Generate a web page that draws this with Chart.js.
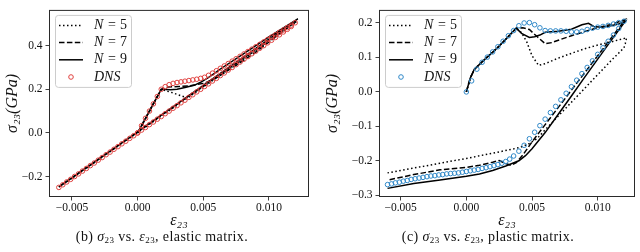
<!DOCTYPE html>
<html lang="en">
<head>
<meta charset="UTF-8">
<title>sigma23 vs epsilon23</title>
<script src="https://cdn.jsdelivr.net/npm/chart.js"></script>
<style>
    body { margin: 0; background: #fff; }
    .figure { position: relative; width: 640px; height: 252px; }
    .panel { position: absolute; top: 0; }
    .caption {
        position: absolute;
        top: 229px;
        font-family: 'Liberation Serif', serif;
        font-size: 14px;
        letter-spacing: 0.4px;
        color: #111;
        white-space: nowrap;
        transform: translateX(-50%);
    }
    .caption sub { font-size: 9px; vertical-align: -2px; line-height: 0; }
</style>
</head>
<body>
<div class="figure">
    <div class="panel" style="left:0"><canvas id="elastic" width="320" height="230"></canvas></div>
    <div class="panel" style="left:320px"><canvas id="plastic" width="320" height="230"></canvas></div>
    <div class="caption" style="left:162px">(b) <i>σ</i><sub>23</sub> vs. <i>ε</i><sub>23</sub>, elastic matrix.</div>
    <div class="caption" style="left:488px">(c) <i>σ</i><sub>23</sub> vs. <i>ε</i><sub>23</sub>, plastic matrix.</div>
</div>

<script>
// ---- tick values / labels ----
const strainTicks = [-0.005, 0, 0.005, 0.01];
const strainTickLabels = ['−0.005', '0.000', '0.005', '0.010'];
const elasticStressTicks = [-0.2, 0, 0.2, 0.4];
const elasticStressTickLabels = ['−0.2', '0.0', '0.2', '0.4'];
const plasticStressTicks = [-0.3, -0.2, -0.1, 0, 0.1, 0.2];
const plasticStressTickLabels = ['−0.3', '−0.2', '−0.1', '0.0', '0.1', '0.2'];
const legendLabels = ['N = 5', 'N = 7', 'N = 9', 'DNS'];

// ---- (b) elastic matrix ----
const elasticDnsStrain = [0, 0.0003, 0.0006, 0.0009, 0.0012, 0.0015, 0.0018, 0.0021, 0.0024, 0.0027, 0.003, 0.0033, 0.0036, 0.0039, 0.0042, 0.0045, 0.0048, 0.0051, 0.0054, 0.0057, 0.006, 0.0063, 0.0066, 0.0069, 0.0072, 0.0075, 0.0078, 0.0081, 0.0084, 0.0087, 0.009, 0.0093, 0.0096, 0.0099, 0.0102, 0.0105, 0.0108, 0.0111, 0.0114, 0.0117, 0.012,
    0.0117, 0.0114, 0.0111, 0.0108, 0.0105, 0.0102, 0.0099, 0.0096, 0.0093, 0.009, 0.0087, 0.0084, 0.0081, 0.0078, 0.0075, 0.0072, 0.0069, 0.0066, 0.0063, 0.006, 0.0057, 0.0054, 0.0051, 0.0048, 0.0045, 0.0042, 0.0039, 0.0036, 0.0033, 0.003, 0.0027, 0.0024, 0.0021, 0.0018, 0.0015, 0.0012, 0.0009, 0.0006, 0.0003, 0,
    -0.0003, -0.0006, -0.0009, -0.0012, -0.0015, -0.0018, -0.0021, -0.0024, -0.0027, -0.003, -0.0033, -0.0036, -0.0039, -0.0042, -0.0045, -0.0048, -0.0051, -0.0054, -0.0057, -0.006];
const elasticDnsStress = [0, 0.033, 0.067, 0.1, 0.133, 0.167, 0.2, 0.212, 0.221, 0.227, 0.231, 0.234, 0.237, 0.24, 0.243, 0.246, 0.25, 0.255, 0.264, 0.274, 0.285, 0.296, 0.307, 0.318, 0.329, 0.34, 0.351, 0.362, 0.373, 0.384, 0.395, 0.406, 0.417, 0.428, 0.439, 0.45, 0.461, 0.472, 0.483, 0.494, 0.505,
    0.488, 0.475, 0.463, 0.45, 0.438, 0.425, 0.413, 0.4, 0.388, 0.375, 0.363, 0.35, 0.338, 0.325, 0.313, 0.3, 0.288, 0.275, 0.263, 0.25, 0.238, 0.225, 0.213, 0.2, 0.188, 0.175, 0.163, 0.15, 0.138, 0.125, 0.113, 0.1, 0.088, 0.075, 0.063, 0.05, 0.038, 0.025, 0.013, 0,
    -0.013, -0.025, -0.038, -0.05, -0.063, -0.075, -0.088, -0.1, -0.113, -0.125, -0.138, -0.15, -0.163, -0.175, -0.188, -0.2, -0.213, -0.225, -0.238, -0.25];
const elasticN9Strain = [0, 0.0018, 0.0025, 0.003, 0.0036, 0.0043, 0.0048, 0.0055, 0.0063, 0.008, 0.01, 0.0122, 0.006, 0, -0.006];
const elasticN9Stress = [0, 0.2, 0.198, 0.2, 0.208, 0.218, 0.232, 0.258, 0.293, 0.36, 0.44, 0.523, 0.26, 0.005, -0.248];
const elasticN7Strain = [0, 0.0018, 0.0023, 0.0032, 0.004, 0.0051, 0.0061, 0.0075, 0.009, 0.0105, 0.0121, 0.006, 0, -0.006];
const elasticN7Stress = [0, 0.2, 0.21, 0.213, 0.216, 0.228, 0.256, 0.31, 0.37, 0.44, 0.516, 0.258, 0.004, -0.248];
const elasticN5Strain = [0, 0.0018, 0.0027, 0.0037, 0.005, 0.007, 0.009, 0.0121, 0.006, 0, -0.006];
const elasticN5Stress = [0, 0.2, 0.183, 0.162, 0.212, 0.295, 0.378, 0.51, 0.252, 0.002, -0.25];

// ---- (c) plastic matrix ----
const plasticDnsStrain = [0, 0.0004, 0.0008, 0.0012, 0.0016, 0.002, 0.0024, 0.0028, 0.0032, 0.0036, 0.004, 0.0044, 0.0048, 0.0052, 0.0056, 0.006, 0.0064, 0.0068, 0.0072, 0.0076, 0.008, 0.0084, 0.0088, 0.0092, 0.0096, 0.01, 0.0104, 0.0108, 0.0112, 0.0116, 0.012,
    0.0116, 0.0112, 0.0108, 0.0104, 0.01, 0.0096, 0.0092, 0.0088, 0.0084, 0.008, 0.0076, 0.0072, 0.0068, 0.0064, 0.006, 0.0056, 0.0052, 0.0048, 0.0044, 0.004, 0.0036,
    0.0033, 0.003, 0.0027, 0.0024, 0.0021, 0.0018, 0.0015, 0.0012, 0.0009, 0.0006, 0.0003, 0, -0.0003, -0.0006, -0.0009, -0.0012, -0.0015, -0.0018, -0.0021, -0.0024, -0.0027, -0.003, -0.0033, -0.0036, -0.0039, -0.0042, -0.0045, -0.0048, -0.0051, -0.0054, -0.0057, -0.006];
const plasticDnsStress = [0, 0.032, 0.066, 0.086, 0.101, 0.116, 0.131, 0.147, 0.163, 0.178, 0.192, 0.2, 0.201, 0.195, 0.186, 0.178, 0.177, 0.177, 0.177, 0.176, 0.174, 0.174, 0.176, 0.181, 0.185, 0.188, 0.19, 0.193, 0.197, 0.201, 0.205,
    0.184, 0.165, 0.147, 0.128, 0.109, 0.09, 0.071, 0.053, 0.034, 0.015, -0.004, -0.023, -0.042, -0.06, -0.079, -0.098, -0.117, -0.136, -0.155, -0.172, -0.186,
    -0.195, -0.202, -0.207, -0.211, -0.214, -0.217, -0.22, -0.222, -0.225, -0.227, -0.229, -0.231, -0.233, -0.235, -0.236, -0.237, -0.238, -0.24, -0.241, -0.243, -0.244, -0.246, -0.248, -0.25, -0.252, -0.254, -0.257, -0.259, -0.262, -0.264, -0.267, -0.269];
const plasticN9Strain = [0, 0.0003, 0.0006, 0.001, 0.0015, 0.002, 0.0025, 0.003, 0.0035, 0.0038, 0.0042, 0.0048, 0.0052, 0.0056, 0.006, 0.007, 0.008, 0.0088, 0.0093, 0.0097, 0.0103, 0.011, 0.0116, 0.0121,
    0.0118, 0.011, 0.01, 0.009, 0.008, 0.007, 0.006, 0.005, 0.0045, 0.004, 0.003, 0.002, 0.001, 0, -0.002, -0.004, -0.006];
const plasticN9Stress = [0, 0.04, 0.065, 0.08, 0.098, 0.115, 0.133, 0.153, 0.173, 0.185, 0.17, 0.158, 0.16, 0.165, 0.173, 0.176, 0.182, 0.195, 0.199, 0.19, 0.188, 0.192, 0.197, 0.205,
    0.19, 0.148, 0.095, 0.042, -0.012, -0.065, -0.118, -0.165, -0.185, -0.2, -0.215, -0.228, -0.238, -0.245, -0.256, -0.266, -0.28];
const plasticN7Strain = [0, 0.0003, 0.0006, 0.001, 0.0015, 0.002, 0.0025, 0.003, 0.0035, 0.0038, 0.0043, 0.0048, 0.0054, 0.006, 0.0065, 0.007, 0.008, 0.009, 0.01, 0.011, 0.0121,
    0.0118, 0.011, 0.01, 0.009, 0.008, 0.007, 0.006, 0.005, 0.0043, 0.0038, 0.0034, 0.003, 0.0025, 0.002, 0.001, 0, -0.002, -0.004, -0.006];
const plasticN7Stress = [0, 0.04, 0.065, 0.08, 0.098, 0.115, 0.133, 0.153, 0.173, 0.185, 0.186, 0.181, 0.16, 0.14, 0.143, 0.15, 0.163, 0.175, 0.186, 0.196, 0.21,
    0.195, 0.155, 0.105, 0.055, 0.005, -0.045, -0.095, -0.145, -0.183, -0.205, -0.213, -0.208, -0.199, -0.204, -0.213, -0.219, -0.226, -0.24, -0.256];
const plasticN5Strain = [0, 0.0003, 0.0006, 0.001, 0.0015, 0.002, 0.0025, 0.003, 0.0035, 0.0038, 0.0042, 0.0046, 0.005, 0.0055, 0.006, 0.007, 0.008, 0.009, 0.01, 0.011, 0.0122,
    0.0121, 0.012, 0.011, 0.01, 0.009, 0.008, 0.007, 0.006, 0.0054, 0.0047, 0.004, 0.002, 0, -0.002, -0.004, -0.006];
const plasticN5Stress = [0, 0.04, 0.065, 0.08, 0.098, 0.115, 0.133, 0.153, 0.173, 0.185, 0.172, 0.145, 0.105, 0.077, 0.082, 0.098, 0.112, 0.125, 0.136, 0.145, 0.157,
    0.14, 0.128, 0.09, 0.05, 0.01, -0.03, -0.07, -0.11, -0.135, -0.152, -0.162, -0.178, -0.193, -0.207, -0.221, -0.235];

const serif = "'Liberation Serif', 'DejaVu Serif', serif";
const ink = '#111';

function series(xs, ys) {
    return xs.map((x, i) => ({ x: x, y: ys[i] }));
}

function modelSet(label, xs, ys, dash, order) {
    return {
        label: label,
        data: series(xs, ys),
        showLine: true,
        borderColor: '#000',
        borderWidth: 1.5,
        borderDash: dash,
        pointRadius: 0,
        fill: false,
        order: order
    };
}

function dnsSet(xs, ys, color) {
    return {
        label: 'DNS',
        data: series(xs, ys),
        showLine: false,
        pointRadius: 2.3,
        pointBorderWidth: 1,
        borderColor: color,
        pointBorderColor: color,
        pointBackgroundColor: 'rgba(0,0,0,0)',
        order: 0
    };
}

// full box around the axes, like matplotlib spines
const framePlugin = {
    id: 'frame',
    afterDatasetsDraw(chart) {
        const a = chart.chartArea, ctx = chart.ctx;
        ctx.save();
        ctx.strokeStyle = '#2a2a2a';
        ctx.lineWidth = 1;
        ctx.strokeRect(a.left + 0.5, a.top + 0.5, a.right - a.left - 1, a.bottom - a.top - 1);
        ctx.restore();
    }
};

// legend box in the upper-left corner of the axes
const boxLegendPlugin = {
    id: 'boxLegend',
    afterDraw(chart) {
        const a = chart.chartArea, ctx = chart.ctx;
        const x0 = a.left + 6, y0 = a.top + 5;
        ctx.save();
        ctx.fillStyle = 'rgba(255,255,255,0.85)';
        ctx.strokeStyle = '#cccccc';
        ctx.lineWidth = 1;
        ctx.beginPath();
        ctx.roundRect(x0 + 0.5, y0 + 0.5, 76, 72, 3);
        ctx.fill();
        ctx.stroke();

        legendLabels.forEach((label, row) => {
            const ds = chart.data.datasets.find(d => d.label === label);
            const y = y0 + 10.5 + row * 17.2;
            if (ds.showLine) {
                ctx.strokeStyle = ds.borderColor;
                ctx.lineWidth = ds.borderWidth;
                ctx.setLineDash(ds.borderDash);
                ctx.beginPath();
                ctx.moveTo(x0 + 4, y);
                ctx.lineTo(x0 + 28, y);
                ctx.stroke();
                ctx.setLineDash([]);
            } else {
                ctx.strokeStyle = ds.pointBorderColor;
                ctx.lineWidth = 1;
                ctx.beginPath();
                ctx.arc(x0 + 16, y, 2.3, 0, Math.PI * 2);
                ctx.stroke();
            }
            ctx.fillStyle = ink;
            ctx.textBaseline = 'middle';
            ctx.textAlign = 'left';
            const tx = x0 + 39;
            const parts = label.split(' = ');
            ctx.font = 'italic 14px ' + serif;
            ctx.fillText(parts[0], tx, y);
            if (parts.length > 1) {
                ctx.font = '14px ' + serif;
                ctx.fillText('=', tx + 14, y);
                ctx.fillText(parts[1], tx + 26, y);
            }
        });
        ctx.restore();
    }
};

function makeChart(id, datasets, opts) {
    const tickFont = { family: serif, size: 11.5 };
    const titleFont = { family: serif, size: 16, style: 'italic' };
    return new Chart(document.getElementById(id), {
        type: 'scatter',
        data: { datasets: datasets },
        options: {
            responsive: false,
            animation: false,
            events: [],
            layout: { padding: { top: 2, right: opts.padRight, bottom: 0, left: 0 } },
            plugins: { legend: { display: false }, tooltip: { enabled: false } },
            scales: {
                x: {
                    type: 'linear',
                    min: opts.xMin,
                    max: opts.xMax,
                    afterBuildTicks: s => { s.ticks = strainTicks.map(v => ({ value: v })); },
                    afterFit: s => { s.height = 33; },
                    ticks: {
                        callback: (v, i) => strainTickLabels[i],
                        font: tickFont, color: ink, padding: 1,
                        maxRotation: 0, autoSkip: false
                    },
                    grid: { drawOnChartArea: false, drawTicks: true, tickLength: 3.5, color: ink, lineWidth: 0.8 },
                    border: { display: false },
                    title: { display: true, text: 'ε₂₃', font: titleFont, color: ink, padding: { top: 0, bottom: 0 } }
                },
                y: {
                    type: 'linear',
                    min: opts.yMin,
                    max: opts.yMax,
                    afterBuildTicks: s => { s.ticks = opts.yTicks.map(v => ({ value: v })); },
                    afterFit: s => { s.width = opts.yWidth; },
                    ticks: {
                        callback: (v, i) => opts.yTickLabels[i],
                        font: tickFont, color: ink, padding: 3, autoSkip: false
                    },
                    grid: { drawOnChartArea: false, drawTicks: true, tickLength: 3.5, color: ink, lineWidth: 0.8 },
                    border: { display: false },
                    title: { display: true, text: 'σ₂₃(GPa)', font: titleFont, color: ink, padding: { top: 3, bottom: 0 } }
                }
            }
        },
        plugins: [framePlugin, boxLegendPlugin]
    });
}

makeChart('elastic', [
    dnsSet(elasticDnsStrain, elasticDnsStress, '#e0413f'),
    modelSet('N = 9', elasticN9Strain, elasticN9Stress, [], 1),
    modelSet('N = 7', elasticN7Strain, elasticN7Stress, [5.5, 2.4], 2),
    modelSet('N = 5', elasticN5Strain, elasticN5Stress, [1.5, 2.5], 3)
], {
    xMin: -0.00675, xMax: 0.01305, yMin: -0.294, yMax: 0.564,
    yTicks: elasticStressTicks, yTickLabels: elasticStressTickLabels,
    yWidth: 49, padRight: 11
});

makeChart('plastic', [
    dnsSet(plasticDnsStrain, plasticDnsStress, '#2f88c8'),
    modelSet('N = 9', plasticN9Strain, plasticN9Stress, [], 1),
    modelSet('N = 7', plasticN7Strain, plasticN7Stress, [5.5, 2.4], 2),
    modelSet('N = 5', plasticN5Strain, plasticN5Stress, [1.5, 2.5], 3)
], {
    xMin: -0.00665, xMax: 0.01284, yMin: -0.305, yMax: 0.238,
    yTicks: plasticStressTicks, yTickLabels: plasticStressTickLabels,
    yWidth: 59, padRight: 5
});
</script>
</body>
</html>
